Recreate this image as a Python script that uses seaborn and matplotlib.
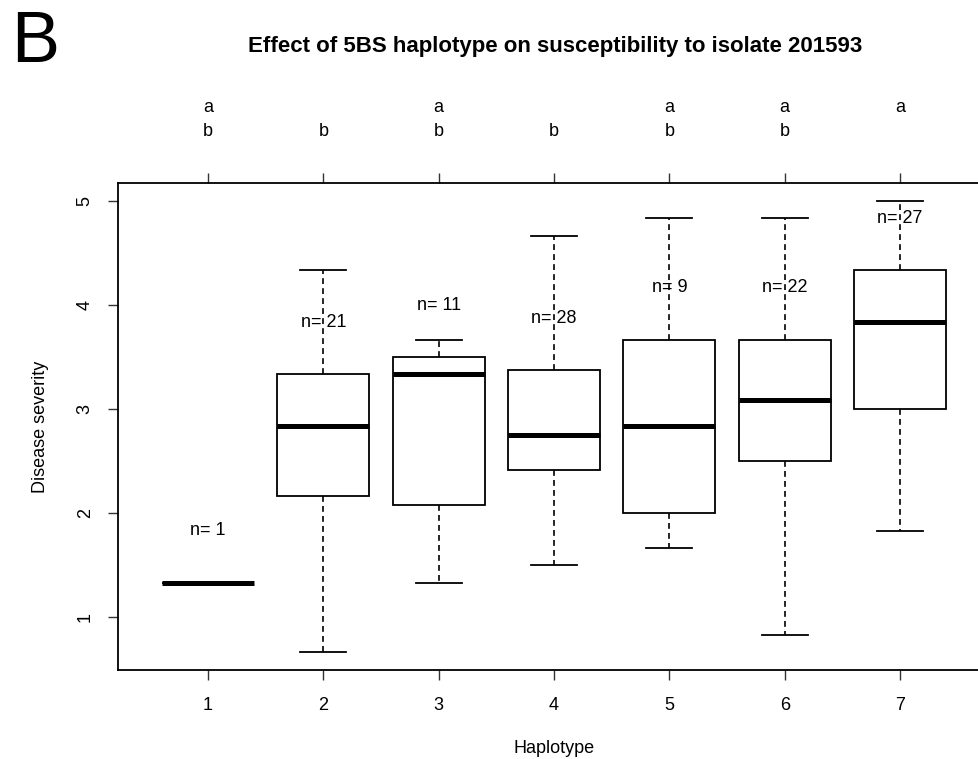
import numpy as np
import pandas as pd
import matplotlib
matplotlib.use("Agg")
import matplotlib.pyplot as plt
import matplotlib.transforms as mtransforms
import seaborn as sns

# ---- data (five-number summaries per haplotype) ----
haplotypes = [1, 2, 3, 4, 5, 6, 7]
whisker_low = [1.333, 0.667, 1.333, 1.500, 1.667, 0.833, 1.833]
q1 = [1.333, 2.167, 2.083, 2.417, 2.000, 2.500, 3.000]
median = [1.333, 2.833, 3.333, 2.750, 2.833, 3.083, 3.833]
q3 = [1.333, 3.333, 3.500, 3.375, 3.667, 3.667, 4.333]
whisker_high = [1.333, 4.333, 3.667, 4.667, 4.833, 4.833, 5.000]
n_obs = [1, 21, 11, 28, 9, 22, 27]
letters = ["ab", "b", "ab", "b", "ab", "ab", "a"]

title = "Effect of 5BS haplotype on susceptibility to isolate 201593"
panel = "B"
xlabel = "Haplotype"
ylabel = "Disease severity"
yticks = [1, 2, 3, 4, 5]

# long-form table built from the summaries
rows = []
for h, lo, a, m, b, hi, n in zip(haplotypes, whisker_low, q1, median, q3, whisker_high, n_obs):
    vals = [lo] if n == 1 else [lo, a, m, b, hi]
    for v in vals:
        rows.append({"haplotype": h, "severity": v})
df = pd.DataFrame(rows)

plt.rcParams["font.family"] = ["Liberation Sans", "DejaVu Sans"]

W, H = 979, 759
fig = plt.figure(figsize=(W / 100, H / 100), dpi=100)
ax_left, ax_right, ax_top, ax_bottom = 118, 990, 183, 670
ax = fig.add_axes([ax_left / W, 1 - ax_bottom / H, (ax_right - ax_left) / W, (ax_bottom - ax_top) / H])

sns.boxplot(
    data=df, x="haplotype", y="severity", native_scale=True, ax=ax,
    width=0.8, color="white", linecolor="black", linewidth=1.3,
    whis=(0, 100), showfliers=False,
    medianprops=dict(color="black", linewidth=3.6, solid_capstyle="butt"),
    whiskerprops=dict(color="black", linewidth=1.2, linestyle=(0, (3.5, 2.5))),
    capprops=dict(color="black", linewidth=1.3),
    boxprops=dict(facecolor="white", edgecolor="black", linewidth=1.3),
)

ax.set_xlim(0.22, 7.78)
ax.set_ylim(0.493, 5.173)
ax.set_xticks(haplotypes)
ax.set_xticklabels([str(h) for h in haplotypes])
ax.set_yticks(yticks)
ax.set_yticklabels([str(t) for t in yticks], rotation=90, va="center")

for s in ax.spines.values():
    s.set_color("black")
    s.set_linewidth(1.3)

fs = 13
ax.tick_params(axis="both", direction="out", length=7.5, width=1.0, color="#333333",
               labelsize=fs, top=True, labeltop=False, right=False)
ax.tick_params(axis="x", pad=12)
ax.tick_params(axis="y", pad=10)

ax.set_xlabel(xlabel, fontsize=fs, labelpad=18.5)
ax.set_ylabel(ylabel, fontsize=fs, labelpad=20)

# n labels above each box
for h, b, n in zip(haplotypes, q3, n_obs):
    ax.text(h, b + 0.5, f"n= {n}", ha="center", va="center", fontsize=fs)

# significance letters above the plot
trans = mtransforms.blended_transform_factory(ax.transData, ax.transAxes)
for h, let in zip(haplotypes, letters):
    if "a" in let:
        ax.text(h, 1.156, "a", transform=trans, ha="center", va="center", fontsize=fs)
    if "b" in let:
        ax.text(h, 1.106, "b", transform=trans, ha="center", va="center", fontsize=fs)

fig.text(555 / W, 1 - 52 / H, title, ha="center", va="baseline", fontsize=16, fontweight="bold")
fig.text(11 / W, 1 - 62 / H, panel, ha="left", va="baseline", fontsize=52)

fig.savefig("out.png", dpi=100)
